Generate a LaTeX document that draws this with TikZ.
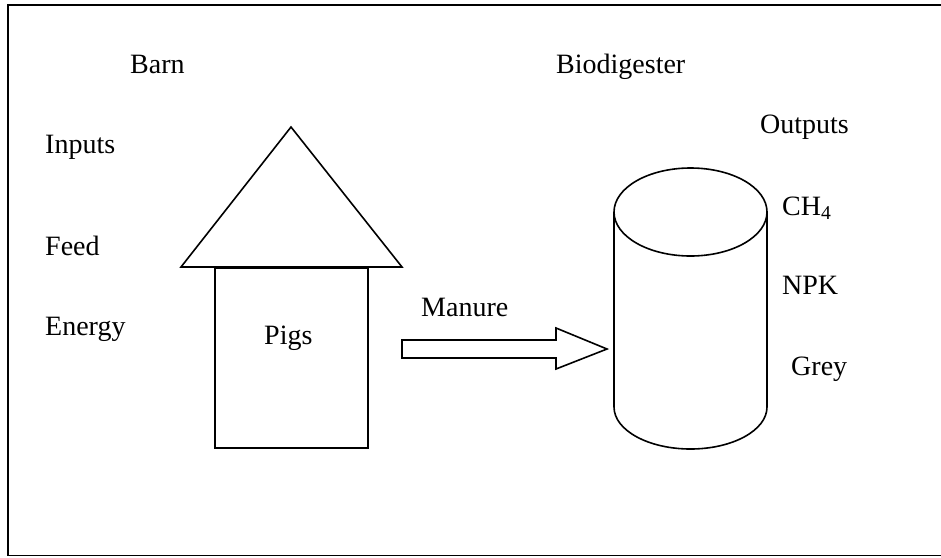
\documentclass[tikz,border=0pt]{standalone}
\usepackage{fontspec}
\setmainfont{Liberation Serif}
\usepackage{tikz}
\tikzstyle{word}=[anchor=base west, inner sep=0pt, font=\fontsize{28}{34}\selectfont]
\tikzstyle{outline}=[draw=black, line width=1.6pt, line join=miter]

\begin{document}
\begin{tikzpicture}[x=1pt, y=-1pt]
    \useasboundingbox (0,0) rectangle (941,557);

    %frame
    \draw[line width=1.8pt] (960,555.5) -- (8,555.5) -- (8,5) -- (960,5);

    %barn roof
    \draw[outline] (181,267) -- (291,127) -- (402,267) -- cycle;

    %barn walls
    \node[outline, minimum width=153pt, minimum height=180pt, inner sep=0pt, anchor=north west] (pen) at (214,267) {};

    %manure arrow
    \draw[outline] (402,340) -- (556,340) -- (556,328) -- (607,349) -- (556,369) -- (556,358) -- (402,358) -- cycle;

    %biodigester
    \draw[outline] (690.5,212) ellipse [x radius=76.5pt, y radius=44pt];
    \draw[outline] (614,212) -- (614,407) arc[start angle=180, end angle=360, x radius=76.5pt, y radius=42pt] -- (767,212);

    %labels
    \foreach \n/\x/\y/\t in {barn/130/73/Barn, inputs/45/153/Inputs, feed/45/255/Feed, energy/45/335/Energy,
        pigs/264/344/Pigs, manure/421/316/Manure, digester/556/73/Biodigester, outputs/760/133/Outputs,
        methane/782/215/CH\textsubscript{4}, npk/782/294/NPK, grey/791/375/Grey} {
    \node[word] (\n) at (\x,\y) {\t};
    }

\end{tikzpicture}
\end{document}
